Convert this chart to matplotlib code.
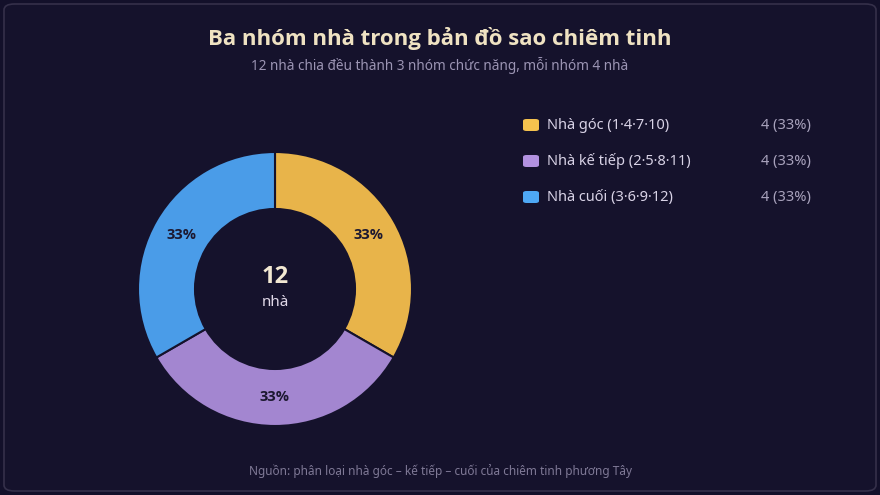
import matplotlib.pyplot as plt
from matplotlib.patches import FancyBboxPatch

plt.rcParams['font.family'] = ['Noto Sans', 'DejaVu Sans']
BOLD = ['Open Sans', 'DejaVu Sans']

labels = ["Nhà góc (1·4·7·10)", "Nhà kế tiếp (2·5·8·11)", "Nhà cuối (3·6·9·12)"]
values = [4, 4, 4]
colors = ["#E8B44A", "#A386D0", "#4A9CE8"]
swatch_colors = ["#F5C24E", "#B291E0", "#4EA8F5"]

W, H = 880, 495
bg = "#13102a"

fig = plt.figure(figsize=(W / 100, H / 100), dpi=100, facecolor=bg)

# card border
card = FancyBboxPatch((4 / W, 4 / H), 872 / W, 487 / H,
                      boxstyle="round,pad=0,rounding_size=0.012",
                      transform=fig.transFigure, facecolor="#15122c",
                      edgecolor="#35304a", linewidth=1.2, zorder=-5)
fig.patches.append(card)

# donut
cx, cy, r = 275, 289, 137
ax = fig.add_axes([(cx - r) / W, 1 - (cy + r) / H, 2 * r / W, 2 * r / H])
ax.set_zorder(2)
ax.axis("off")
total = sum(values)
wedges, texts, autotexts = ax.pie(
    values, colors=colors, startangle=90, counterclock=False, radius=1,
    wedgeprops=dict(width=1 - 80 / 137, edgecolor="#15122c", linewidth=1.5),
    autopct=lambda p: f"{p:.0f}%", pctdistance=(1 + 80 / 137) / 2,
    textprops=dict(color="#1c1830", fontsize=10.5, fontweight="bold",
                   family=BOLD))
ax.set_xlim(-1, 1)
ax.set_ylim(-1, 1)
ax.text(0, 0.09, str(total), ha="center", va="center", fontsize=17,
        fontweight="bold", color="#f2e8d2", family=BOLD)
ax.text(0, -0.1, "nhà", ha="center", va="center", fontsize=11,
        color="#e0d8e8")

# titles
fig.text(0.5, 1 - 38 / H, "Ba nhóm nhà trong bản đồ sao chiêm tinh",
         ha="center", va="center", fontsize=16, fontweight="bold",
         color="#efe2c2", family=BOLD)
fig.text(0.5, 1 - 66 / H, "12 nhà chia đều thành 3 nhóm chức năng, mỗi nhóm 4 nhà",
         ha="center", va="center", fontsize=9.8, color="#9c95b4")

# legend
for i, (lab, v) in enumerate(zip(labels, values)):
    y = 125 + 36 * i
    sw = FancyBboxPatch(((523) / W, 1 - (y + 6) / H), 16 / W, 12 / H,
                        boxstyle="round,pad=0,rounding_size=0.004",
                        transform=fig.transFigure, facecolor=swatch_colors[i],
                        edgecolor="none")
    fig.patches.append(sw)
    fig.text(547 / W, 1 - y / H, lab, ha="left", va="center", fontsize=10.5,
             color="#d8d2e6")
    fig.text(811 / W, 1 - y / H, f"{v} ({v / total * 100:.0f}%)", ha="right",
             va="center", fontsize=10.5, color="#a8a2bc")

fig.text(0.5, 1 - 471 / H,
         "Nguồn: phân loại nhà góc – kế tiếp – cuối của chiêm tinh phương Tây",
         ha="center", va="center", fontsize=8.5, color="#7f7996")

fig.savefig("out.png", dpi=100, facecolor=bg)
